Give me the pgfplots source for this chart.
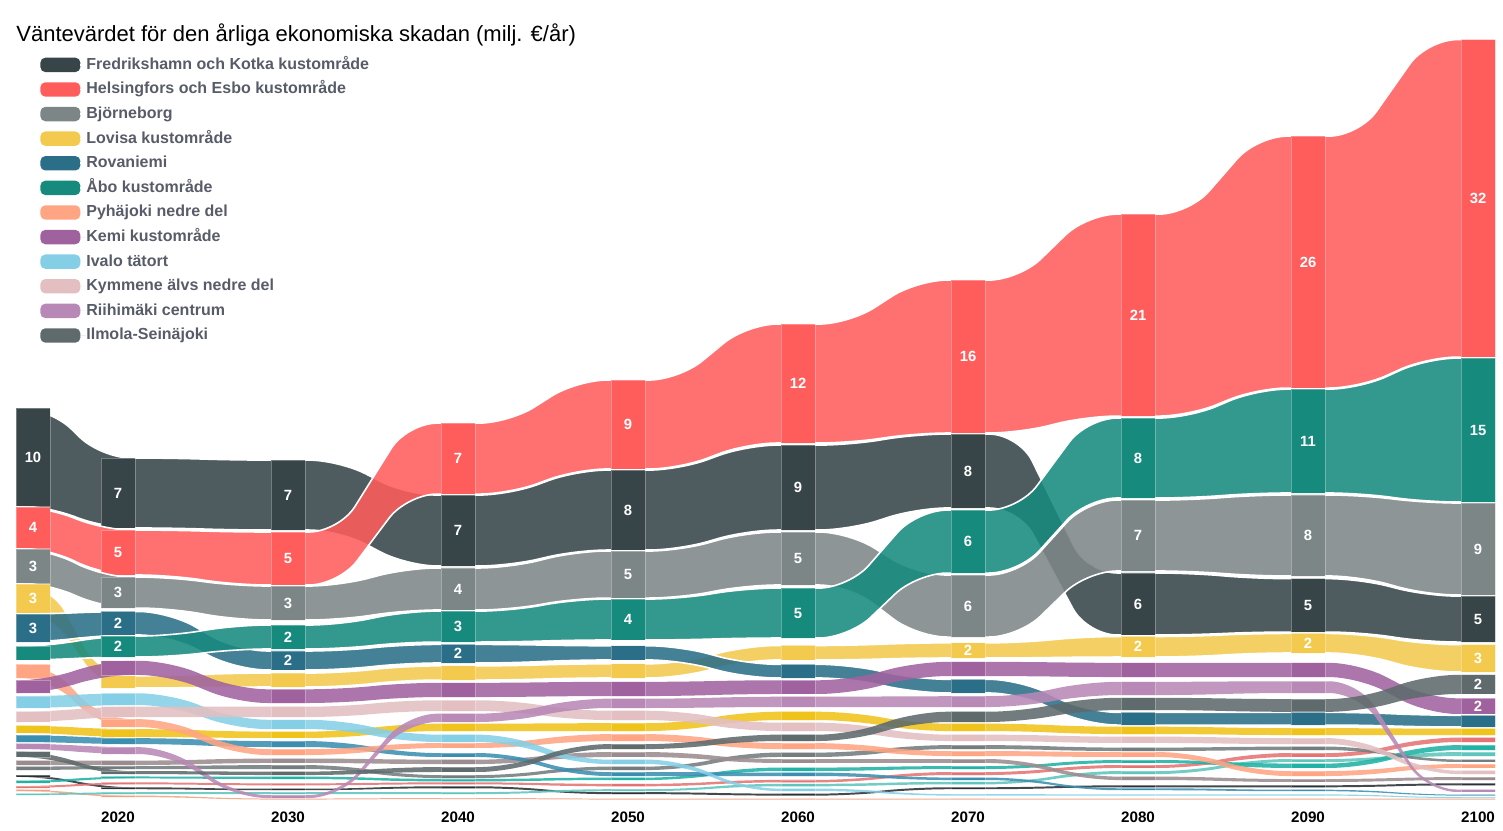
\documentclass[border=0pt]{standalone}
\usepackage{pgfplots}
\pgfplotsset{compat=1.18}
\usepackage{fontspec}
\setmainfont{Liberation Sans}

\definecolor{cFred}{HTML}{374549}
\definecolor{cHel}{HTML}{FF5C5C}
\definecolor{cBjo}{HTML}{7D8687}
\definecolor{cLov}{HTML}{F3CA4E}
\definecolor{cRov}{HTML}{2A6E88}
\definecolor{cAbo}{HTML}{178A7E}
\definecolor{cPyh}{HTML}{FFA583}
\definecolor{cKem}{HTML}{A0629F}
\definecolor{cIva}{HTML}{85CFE6}
\definecolor{cKym}{HTML}{E3BFC2}
\definecolor{cRii}{HTML}{B888B6}
\definecolor{cIlm}{HTML}{5E6A6C}
\definecolor{cDY}{HTML}{EFC319}
\definecolor{cB2}{HTML}{3B8EB0}
\definecolor{cGB}{HTML}{9A8C8E}
\definecolor{cDG}{HTML}{747C7E}
\definecolor{cT2}{HTML}{20B2A5}
\definecolor{cRT}{HTML}{E57373}
\definecolor{cT3}{HTML}{5EC5BC}
\definecolor{cBK}{HTML}{2A3035}
\definecolor{cPT}{HTML}{F0A080}
\definecolor{legtext}{HTML}{575C68}

\pgfplotsset{
  ribbon/.style={fill opacity=0.88, draw=none, rounded corners=15pt, mark=none},
  block/.style={draw=white, draw opacity=0.3, line width=0.4pt, mark=none},
  major/.style={draw=white, draw opacity=1, line width=0.8pt},
}

\gdef\labpts{}
% #1 colour, #2 extra options, #3 data year/bottom/value
\newcommand\ribbon[3]{%
  \gdef\toppts{}\gdef\botpts{}\gdef\blkpts{}%
  \foreach \yr/\lo/\vv in {#3}{%
    \pgfmathsetmacro\hi{\lo+\vv}%
    \ifnum\yr=2015 \def\xl{2010}\def\xr{2016}%
    \else\ifnum\yr=2020 \def\xl{2019}\def\xr{2023}%
    \else\ifnum\yr=2100 \def\xl{2097}\def\xr{2105}%
    \else\pgfmathtruncatemacro\xl{\yr-3}\pgfmathtruncatemacro\xr{\yr+3}%
    \fi\fi\fi
    \pgfmathtruncatemacro\bxl{\yr-1}\pgfmathtruncatemacro\bxr{\yr+1}%
    \xdef\toppts{\toppts(\xl,\hi)(\xr,\hi)}%
    \xdef\botpts{(\xr,\lo)(\xl,\lo)\botpts}%
    \xdef\blkpts{\blkpts(\bxl,\lo)(\bxr,\lo)(\bxr,\hi)(\bxl,\hi)(\bxl,\lo)(\yr,nan)}%
    \pgfmathtruncatemacro\lab{round(\vv)}%
    \ifnum\lab>1
      \pgfmathsetmacro\mdl{\lo+\vv/2}%
      \xdef\labpts{\labpts(\yr,\mdl)[\lab]}%
    \fi
  }%
  \edef\doplot{\noexpand\addplot[ribbon, fill=#1, #2] coordinates {\toppts\botpts};}\doplot
  \edef\doplot{\noexpand\addplot[block, fill=#1, forget plot] coordinates {\blkpts};}\doplot
}

\begin{document}
\begin{tikzpicture}
\begin{axis}[
  name=ax, scale only axis, width=739.5pt, height=390pt,
  xmin=2014, xmax=2101, ymin=0, ymax=79.6,
  axis line style={draw=none}, major tick length=0pt,
  ytick=\empty,
  xtick={2020,2030,2040,2050,2060,2070,2080,2090,2100},
  xticklabels={2020,2030,2040,2050,2060,2070,2080,2090,2100},
  xticklabel style={font=\bfseries\fontsize{7.6}{9}\selectfont, text=black, yshift=-2.2pt},
  clip=true, unbounded coords=jump,
  title={Väntevärdet för den årliga ekonomiska skadan (milj. €/år)},
  title style={at={(0,1)}, anchor=base west, yshift=-16.5pt, inner sep=0pt, font=\fontsize{11}{13}\selectfont},
  legend image code/.code={\path[#1, draw=none, fill opacity=1, rounded corners=2.5pt] (0pt,-3.6pt) rectangle (20pt,3.6pt); \path (20pt,0pt) -- (22.6pt,0pt);},
  legend cell align=left,
  legend style={at={(0.0162,0.9526)}, anchor=north west, draw=none, fill=none,
    inner sep=0pt, row sep=4.8pt, font=\bfseries\fontsize{8}{9.6}\selectfont, text=legtext,
    nodes={inner sep=0pt, text height=6pt, text depth=1.5pt}},
]
% unnamed small series
\ribbon{cPT}{forget plot}{2015/0.9/0.15, 2020/0.3/0.15, 2030/0.05/0.1, 2040/0.1/0.1, 2050/0.05/0.1, 2060/0.05/0.1, 2070/0.05/0.1, 2080/0.05/0.1, 2090/0.05/0.1, 2100/0.05/0.1}
\ribbon{cBK}{forget plot}{2015/2.35/0.2, 2020/1.1/0.2, 2030/1.0/0.15, 2040/1.2/0.2, 2050/0.6/0.2, 2060/0.45/0.2, 2070/1.1/0.2, 2080/1.3/0.2, 2090/1.3/0.2, 2100/1.5/0.2}
\ribbon{cT3}{forget plot}{2015/0.5/0.15, 2020/0.6/0.2, 2030/0.6/0.2, 2040/0.6/0.2, 2050/0.9/0.2, 2060/1.4/0.25, 2070/1.6/0.25, 2080/2.65/0.3, 2090/3.88/0.3, 2100/4.49/0.4}
\ribbon{cRT}{forget plot}{2015/1.22/0.2, 2020/1.6/0.2, 2030/1.5/0.2, 2040/1.6/0.2, 2050/1.4/0.25, 2060/1.8/0.25, 2070/2.55/0.3, 2080/3.27/0.3, 2090/4.39/0.4, 2100/5.92/0.45}
\ribbon{cT2}{forget plot}{2015/1.73/0.25, 2020/2.2/0.2, 2030/2.14/0.25, 2040/1.9/0.25, 2050/2.04/0.25, 2060/2.96/0.35, 2070/3.16/0.3, 2080/3.78/0.3, 2090/3.27/0.45, 2100/5.1/0.5}
\ribbon{cDG}{forget plot}{2015/3.06/0.35, 2020/3.16/0.3, 2030/3.16/0.4, 2040/2.24/0.3, 2050/3.06/0.35, 2060/4.39/0.45, 2070/5.2/0.4, 2080/5.0/0.35, 2090/5.1/0.35, 2100/3.88/0.25}
\ribbon{cGB}{forget plot}{2015/3.57/0.45, 2020/3.57/0.45, 2030/3.78/0.45, 2040/3.67/0.45, 2050/4.39/0.5, 2060/3.78/0.4, 2070/3.78/0.4, 2080/2.04/0.35, 2090/1.84/0.3, 2100/2.04/0.3}
\ribbon{cB2}{forget plot}{2015/5.92/0.7, 2020/5.71/0.6, 2030/5.41/0.6, 2040/4.39/0.4, 2050/2.45/0.4, 2060/2.45/0.35, 2070/2.04/0.25, 2080/1.0/0.2, 2090/0.9/0.15, 2100/0.45/0.1}
\ribbon{cDY}{forget plot}{2015/6.84/0.75, 2020/6.43/0.8, 2030/6.33/0.65, 2040/7.04/0.75, 2050/7.04/0.8, 2060/8.16/0.85, 2070/7.04/0.75, 2080/6.73/0.75, 2090/6.63/0.7, 2100/6.63/0.65}
% named series
\ribbon{cFred}{major}{2015/30.0/10.0, 2020/27.76/7.14, 2030/27.55/7.14, 2040/23.88/7.24, 2050/25.51/8.16, 2060/27.55/8.67, 2070/29.80/7.55, 2080/16.84/6.33, 2090/17.14/5.45, 2100/16.12/4.69}
\addlegendentry{Fredrikshamn och Kotka kustområde}
\ribbon{cHel}{major}{2015/25.71/4.18, 2020/22.96/4.59, 2030/21.94/5.41, 2040/31.22/7.24, 2050/33.78/9.08, 2060/36.43/12.14, 2070/37.45/15.61, 2080/39.18/20.61, 2090/42.04/25.71, 2100/45.20/32.4}
\addlegendentry{Helsingfors och Esbo kustområde}
\ribbon{cBjo}{major}{2015/22.14/3.47, 2020/19.59/3.16, 2030/18.37/3.47, 2040/19.39/4.29, 2050/20.61/4.80, 2060/21.94/5.41, 2070/16.63/6.33, 2080/23.37/7.24, 2090/22.86/8.27, 2100/20.92/9.39}
\addlegendentry{Björneborg}
\ribbon{cLov}{major}{2015/19.08/2.95, 2020/11.43/1.25, 2030/11.53/1.43, 2040/12.24/1.45, 2050/12.45/1.45, 2060/14.29/1.48, 2070/14.49/1.55, 2080/14.59/2.1, 2090/15.0/2.0, 2100/13.06/2.8}
\addlegendentry{Lovisa kustområde}
\ribbon{cRov}{major}{2015/16.12/2.86, 2020/16.84/2.4, 2030/13.27/1.94, 2040/13.98/1.9, 2050/14.29/1.45, 2060/12.45/1.4, 2070/10.92/1.4, 2080/7.65/1.3, 2090/7.65/1.3, 2100/7.45/1.2}
\addlegendentry{Rovaniemi}
\ribbon{cAbo}{major}{2015/14.29/1.4, 2020/14.59/2.14, 2030/15.41/2.45, 2040/16.12/3.16, 2050/16.33/4.18, 2060/16.53/5.1, 2070/23.16/6.43, 2080/30.82/8.16, 2090/31.33/10.6, 2100/30.41/14.69}
\addlegendentry{Åbo kustområde}
\ribbon{cPyh}{}{2015/12.45/1.4, 2020/7.45/0.8, 2030/4.59/0.6, 2040/5.31/0.5, 2050/6.02/0.7, 2060/5.2/0.6, 2070/4.49/0.5, 2080/4.39/0.5, 2090/2.45/0.5, 2100/3.27/0.4}
\addlegendentry{Pyhäjoki nedre del}
\ribbon{cKem}{}{2015/10.92/1.3, 2020/12.76/1.45, 2030/9.9/1.4, 2040/10.51/1.45, 2050/10.61/1.45, 2060/10.82/1.4, 2070/12.65/1.45, 2080/12.55/1.45, 2090/12.55/1.45, 2100/8.78/1.6}
\addlegendentry{Kemi kustområde}
\ribbon{cIva}{}{2015/9.39/1.2, 2020/9.69/1.2, 2030/7.24/0.95, 2040/5.92/0.75, 2050/3.67/0.45, 2060/0.92/0.25, 2070/0.45/0.15, 2080/0.45/0.12, 2090/0.45/0.12, 2100/0.2/0.1}
\addlegendentry{Ivalo tätort}
\ribbon{cKym}{}{2015/7.96/1.05, 2020/8.47/1.05, 2030/8.47/1.05, 2040/9.08/1.1, 2050/8.16/0.95, 2060/7.04/0.85, 2070/6.02/0.65, 2080/5.82/0.65, 2090/5.71/0.6, 2100/2.65/0.35}
\addlegendentry{Kymmene älvs nedre del}
\ribbon{cRii}{}{2015/5.2/0.55, 2020/4.69/0.7, 2030/0.2/0.3, 2040/7.96/0.85, 2050/9.39/0.95, 2060/9.49/1.05, 2070/9.49/1.1, 2080/10.71/1.35, 2090/10.92/1.2, 2100/0.82/0.25}
\addlegendentry{Riihimäki centrum}
\ribbon{cIlm}{}{2015/4.39/0.55, 2020/2.65/0.3, 2030/2.55/0.35, 2040/2.86/0.5, 2050/5.2/0.5, 2060/6.02/0.65, 2070/7.96/1.05, 2080/9.18/1.25, 2090/9.0/1.3, 2100/10.82/1.95}
\addlegendentry{Ilmola-Seinäjoki}
% value labels
\edef\doplot{\noexpand\addplot[forget plot, draw=none, mark=none, nodes near coords, point meta=explicit symbolic,
  nodes near coords style={anchor=center, inner sep=0pt, text=white, font=\noexpand\bfseries\noexpand\fontsize{7.4}{8}\noexpand\selectfont}]
  coordinates {\labpts};}\doplot
\end{axis}
\pgfresetboundingbox
\path[use as bounding box] ([xshift=-8pt,yshift=-15pt]ax.south west) rectangle ([xshift=4pt,yshift=10pt]ax.north east);
\end{tikzpicture}
\end{document}
